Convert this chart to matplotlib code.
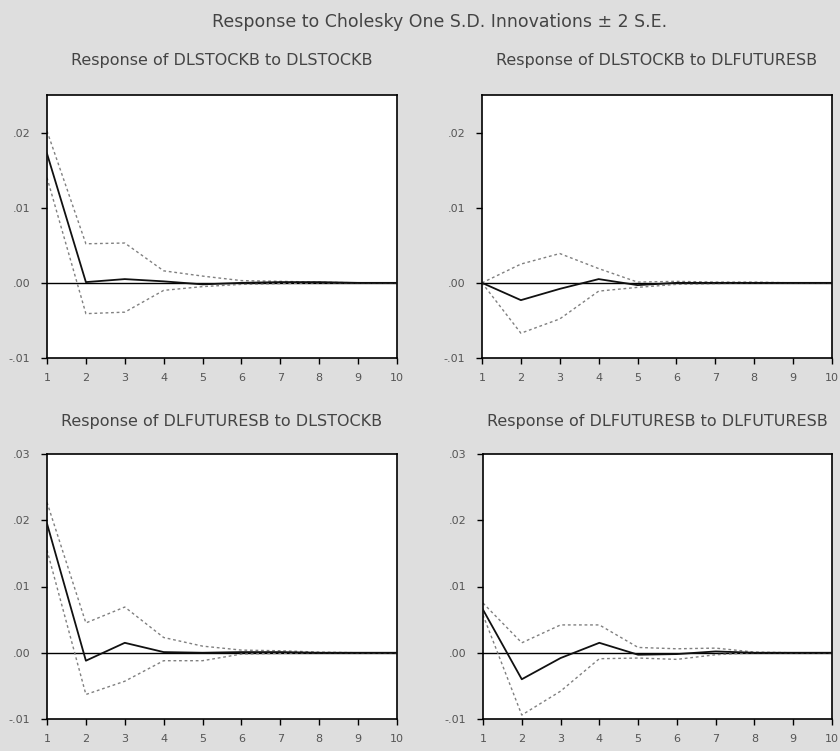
#!/usr/bin/env python
# -*- coding: utf-8 -*-

""" Impulse responses, Cholesky one S.D. innovations +/- 2 S.E. """

import matplotlib
matplotlib.use('Agg')
import matplotlib.pyplot as plt
from matplotlib.ticker import FuncFormatter

periods = [1, 2, 3, 4, 5, 6, 7, 8, 9, 10]

titles = [
    'Response of DLSTOCKB to DLSTOCKB',
    'Response of DLSTOCKB to DLFUTURESB',
    'Response of DLFUTURESB to DLSTOCKB',
    'Response of DLFUTURESB to DLFUTURESB',
]

# stock -> stock
resp_ss = [0.0172, 0.0001, 0.0005, 0.0002, -0.0002, 0.0000, 0.0001, 0.0001, 0.0000, 0.0000]
upper_ss = [0.0202, 0.0052, 0.0053, 0.0016, 0.0009, 0.0003, 0.0002, 0.0001, 0.0000, 0.0000]
lower_ss = [0.0140, -0.0041, -0.0039, -0.0010, -0.0005, -0.0002, -0.0001, 0.0000, 0.0000, 0.0000]

# stock -> futures
resp_sf = [0.0000, -0.0023, -0.0008, 0.0005, -0.0003, 0.0000, 0.0000, 0.0000, 0.0000, 0.0000]
upper_sf = [0.0000, 0.0025, 0.0039, 0.0019, 0.0001, 0.0002, 0.0001, 0.0001, 0.0000, 0.0000]
lower_sf = [0.0000, -0.0067, -0.0048, -0.0011, -0.0006, -0.0002, -0.0001, 0.0000, 0.0000, 0.0000]

# futures -> stock
resp_fs = [0.0195, -0.0012, 0.0015, 0.0001, 0.0000, 0.0001, 0.0001, 0.0000, 0.0000, 0.0000]
upper_fs = [0.0227, 0.0045, 0.0069, 0.0023, 0.0010, 0.0004, 0.0003, 0.0001, 0.0000, 0.0000]
lower_fs = [0.0155, -0.0063, -0.0043, -0.0012, -0.0012, -0.0002, -0.0001, 0.0000, 0.0000, 0.0000]

# futures -> futures
resp_ff = [0.0065, -0.0040, -0.0008, 0.0015, -0.0003, -0.0002, 0.0002, 0.0000, 0.0000, 0.0000]
upper_ff = [0.0075, 0.0015, 0.0042, 0.0042, 0.0008, 0.0006, 0.0007, 0.0001, 0.0000, 0.0000]
lower_ff = [0.0057, -0.0094, -0.0058, -0.0009, -0.0008, -0.0010, -0.0003, 0.0000, 0.0000, 0.0000]

series = [
    (resp_ss, upper_ss, lower_ss),
    (resp_sf, upper_sf, lower_sf),
    (resp_fs, upper_fs, lower_fs),
    (resp_ff, upper_ff, lower_ff),
]

top_ylim = (-0.01, 0.025)
top_yticks = [-0.01, 0.0, 0.01, 0.02]
bottom_ylim = (-0.01, 0.03)
bottom_yticks = [-0.01, 0.0, 0.01, 0.02, 0.03]

BG = '#dedede'


def eviews_fmt(val, pos=None):
    """ .02 / -.01 style labels """
    s = '%.2f' % val
    if s.startswith('0'):
        s = s[1:]
    elif s.startswith('-0'):
        s = '-' + s[2:]
    return s


W, H = 840, 751
fig = plt.figure(figsize=(W / 100.0, H / 100.0), dpi=100, facecolor=BG)

# axes boxes in pixels: left, top, right, bottom
boxes = [
    (47, 95, 397, 358),
    (482, 95, 832, 358),
    (47, 454, 397, 719),
    (483, 454, 832, 719),
]
# title centre heights (pixels from top)
title_y = [60, 60, 422, 422]

fig.text(440 / W, 1 - 22 / H, u'Response to Cholesky One S.D. Innovations \u00b1 2 S.E.',
         ha='center', va='center', fontsize=12.5, color='#444444')

for i, (l, t, r, b) in enumerate(boxes):
    ax = fig.add_axes([l / W, 1 - b / H, (r - l) / W, (b - t) / H])
    ax.set_facecolor('white')
    resp, upper, lower = series[i]
    ax.axhline(0, color='black', lw=1.0, zorder=1)
    ax.plot(periods, upper, color='#808080', lw=1.0, ls=(0, (2, 2)), zorder=2)
    ax.plot(periods, lower, color='#808080', lw=1.0, ls=(0, (2, 2)), zorder=2)
    ax.plot(periods, resp, color='#111111', lw=1.3, zorder=3)
    ax.set_xlim(1, 10)
    if i < 2:
        ax.set_ylim(*top_ylim)
        ax.set_yticks(top_yticks)
    else:
        ax.set_ylim(*bottom_ylim)
        ax.set_yticks(bottom_yticks)
    ax.set_xticks(periods)
    ax.yaxis.set_major_formatter(FuncFormatter(eviews_fmt))
    ax.tick_params(direction='out', length=4, width=1, labelsize=8,
                   colors='black', labelcolor='#555555')
    ax.tick_params(axis='x', pad=7)
    ax.tick_params(axis='y', pad=8)
    for sp in ax.spines.values():
        sp.set_linewidth(1.2)
        sp.set_color('black')
    fig.text((l + r) / 2.0 / W, 1 - title_y[i] / H, titles[i],
             ha='center', va='center', fontsize=11.5, color='#444444')

fig.savefig('out.png', dpi=100, facecolor=BG)
